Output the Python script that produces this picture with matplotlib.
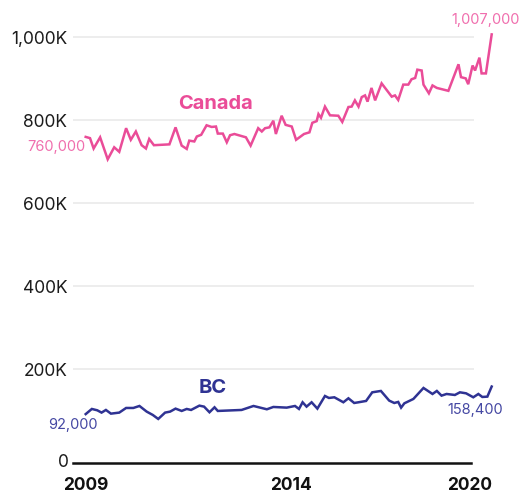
import matplotlib
matplotlib.use("Agg")
import matplotlib.pyplot as plt
from matplotlib.transforms import offset_copy

plt.rcParams['font.family'] = ['Inter', 'DejaVu Sans']

# Canada series (decimal year, persons)
canada_t = [2009.00, 2009.12, 2009.22, 2009.40, 2009.61, 2009.79, 2009.93, 2010.12, 2010.25, 2010.39,
            2010.55, 2010.67, 2010.76, 2010.89, 2011.32, 2011.49, 2011.66, 2011.80, 2011.87, 2012.01,
            2012.08, 2012.20, 2012.35, 2012.49, 2012.61, 2012.66, 2012.80, 2012.91, 2013.00, 2013.12,
            2013.28, 2013.44, 2013.57, 2013.78, 2013.88, 2013.97, 2014.09, 2014.20, 2014.27, 2014.43,
            2014.54, 2014.71, 2014.83, 2015.05, 2015.20, 2015.28, 2015.40, 2015.45, 2015.52, 2015.63,
            2015.77, 2016.00, 2016.11, 2016.28, 2016.37, 2016.46, 2016.56, 2016.65, 2016.74, 2016.81,
            2016.92, 2017.02, 2017.20, 2017.48, 2017.57, 2017.66, 2017.80, 2017.94, 2018.03, 2018.13,
            2018.19, 2018.31, 2018.36, 2018.51, 2018.61, 2018.73, 2019.05, 2019.33, 2019.40, 2019.53,
            2019.60, 2019.72, 2019.79, 2019.91, 2019.97, 2020.09, 2020.25]
canada_v = [760000, 757000, 732000, 759000, 706000, 735000, 724000, 781000, 753000, 773000,
            740000, 732000, 755000, 740000, 742000, 783000, 739000, 731000, 751000, 749000,
            761000, 765000, 788000, 784000, 785000, 768000, 768000, 747000, 764000, 767000,
            763000, 759000, 739000, 781000, 773000, 781000, 783000, 799000, 767000, 811000,
            789000, 785000, 753000, 767000, 771000, 794000, 798000, 815000, 806000, 833000,
            812000, 811000, 796000, 832000, 833000, 848000, 833000, 856000, 860000, 845000,
            878000, 848000, 889000, 857000, 860000, 849000, 886000, 886000, 899000, 902000,
            922000, 920000, 886000, 865000, 884000, 878000, 871000, 935000, 904000, 901000,
            887000, 932000, 920000, 951000, 913000, 913000, 1007000]

# BC series
bc_t = [2009.00, 2009.17, 2009.32, 2009.44, 2009.56, 2009.70, 2009.93, 2010.12, 2010.32, 2010.49,
        2010.69, 2010.86, 2011.01, 2011.20, 2011.34, 2011.49, 2011.66, 2011.80, 2011.92, 2012.15,
        2012.28, 2012.43, 2012.57, 2012.66, 2013.32, 2013.65, 2014.02, 2014.20, 2014.57, 2014.80,
        2014.91, 2015.01, 2015.12, 2015.26, 2015.42, 2015.63, 2015.74, 2015.89, 2016.14, 2016.28,
        2016.44, 2016.56, 2016.77, 2016.94, 2017.18, 2017.41, 2017.55, 2017.66, 2017.74, 2017.83,
        2018.08, 2018.36, 2018.61, 2018.73, 2018.86, 2019.00, 2019.23, 2019.37, 2019.54, 2019.74,
        2019.88, 2019.99, 2020.13, 2020.25]
bc_v = [92000, 104400, 101200, 95600, 102000, 93100, 95600, 106800, 106800, 111600,
        98000, 89900, 80300, 95600, 98000, 105200, 99600, 104400, 102000, 112400,
        110000, 96400, 108400, 99600, 102000, 111600, 103600, 109200, 107600, 111600,
        104400, 120500, 110000, 120500, 105200, 135700, 130900, 132500, 120500, 130100,
        118800, 120500, 123700, 144500, 147800, 124500, 118800, 121300, 107600, 118000,
        128500, 155000, 140500, 147800, 136500, 140500, 138100, 144500, 142100, 132500,
        140500, 133300, 134100, 158400]

y_ticks = [200000, 400000, 600000, 800000, 1000000]
y_labels = ['200K', '400K', '600K', '800K', '1,000K']
x_ticks = [2009.0, 2014.69, 2019.65]
x_labels = ['2009', '2014', '2020']

pink = '#ea4c98'
pink_light = '#f06fae'
navy = '#2f3393'
navy_light = '#4548a3'

fig = plt.figure(figsize=(5.23, 4.93), dpi=100)
ax = fig.add_axes([0.139, 0.0826, 0.817, 0.9174])
ax.set_xlim(2008.64, 2020.48)
ax.set_ylim(0, 1089900)

# light gridlines, stopping short of the line ends
ax.hlines(y_ticks, 2008.64, 2019.76, color='#e8e8e8', linewidth=1.1, zorder=0)

ax.plot(canada_t, canada_v, color=pink, linewidth=1.8, solid_joinstyle='miter', zorder=3)
ax.plot(bc_t, bc_v, color=navy, linewidth=1.8, solid_joinstyle='miter', zorder=3)

for side in ['top', 'right', 'left']:
    ax.spines[side].set_visible(False)
ax.spines['bottom'].set_position(('outward', 7.7))
ax.spines['bottom'].set_bounds(2008.64, 2019.68)
ax.spines['bottom'].set_linewidth(1.8)
ax.spines['bottom'].set_color('#111111')

ax.set_yticks(y_ticks)
ax.set_yticklabels(y_labels)
ax.tick_params(axis='y', length=0, pad=4, labelsize=12.5, labelcolor='#1c1c1c')
ax.set_xticks(x_ticks)
ax.set_xticklabels(x_labels, fontweight='bold')
ax.tick_params(axis='x', length=0, pad=10, labelsize=12.5, labelcolor='#111111')

# zero label sits on the offset baseline
zero_tr = offset_copy(ax.get_yaxis_transform(), fig=fig, x=-4, y=-10.7, units='dots')
ax.text(0, 0, '0', transform=zero_tr, ha='right', va='center', fontsize=12.5, color='#1c1c1c')

ax.text(2012.61, 839000, 'Canada', color=pink, fontsize=14.5, fontweight='bold', ha='center', va='center')
ax.text(2008.99, 736000, f'{canada_v[0]:,}', color=pink_light, fontsize=10.5, ha='right', va='center')
ax.text(2021.03, 1041700, f'{canada_v[-1]:,}', color=pink_light, fontsize=10.5, ha='right', va='center',
        clip_on=False)

ax.text(2012.53, 155000, 'BC', color=navy, fontsize=14.5, fontweight='bold', ha='center', va='center')
ax.text(2009.34, 65800, f'{bc_v[0]:,}', color=navy_light, fontsize=10.5, ha='right', va='center')
ax.text(2020.56, 102000, f'{bc_v[-1]:,}', color=navy_light, fontsize=10.5, ha='right', va='center')

fig.savefig('out.png', dpi=100)
